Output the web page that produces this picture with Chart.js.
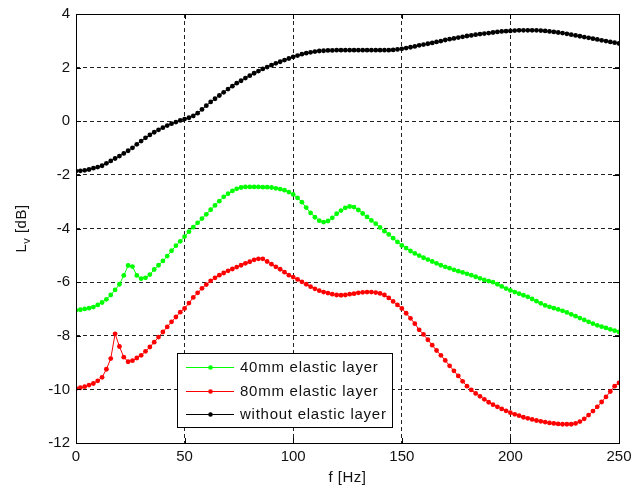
<!DOCTYPE html>
<html>
<head>
<meta charset="utf-8">
<script src="https://cdn.jsdelivr.net/npm/chart.js@4"></script>
<style>
  html, body { margin: 0; padding: 0; background: #fff; }
  #wrap { width: 631px; height: 490px; }
</style>
</head>
<body>
<div id="wrap"><canvas id="lvChart" width="631" height="490"></canvas></div>
<script>
// frequency grid [Hz]
const freqs = [0,2,4,6,8,10,12,14,16,18,20,22,24,26,28,30,32,34,36,38,40,42,44,46,48,50,52,54,56,58,
  60,62,64,66,68,70,72,74,76,78,80,82,84,86,88,90,92,94,96,98,100,102,104,106,108,110,112,114,116,118,
  120,122,124,126,128,130,132,134,136,138,140,142,144,146,148,150,152,154,156,158,160,162,164,166,168,170,
  172,174,176,178,180,182,184,186,188,190,192,194,196,198,200,202,204,206,208,210,212,214,216,218,220,222,
  224,226,228,230,232,234,236,238,240,242,244,246,248,250];

const lv40 = [-7.05,-7.03,-7.00,-6.97,-6.93,-6.85,-6.76,-6.64,-6.48,-6.29,
  -6.08,-5.75,-5.38,-5.42,-5.75,-5.87,-5.84,-5.72,-5.53,-5.37,
  -5.21,-5.03,-4.83,-4.64,-4.48,-4.30,-4.12,-3.95,-3.79,-3.63,
  -3.47,-3.30,-3.14,-2.98,-2.82,-2.70,-2.60,-2.52,-2.47,-2.45,
  -2.45,-2.45,-2.45,-2.46,-2.46,-2.47,-2.50,-2.53,-2.57,-2.64,
  -2.73,-2.86,-3.02,-3.22,-3.42,-3.58,-3.71,-3.76,-3.72,-3.60,
  -3.45,-3.33,-3.23,-3.18,-3.20,-3.31,-3.44,-3.57,-3.70,-3.82,
  -3.96,-4.10,-4.22,-4.36,-4.50,-4.63,-4.73,-4.84,-4.93,-5.01,
  -5.09,-5.16,-5.23,-5.30,-5.37,-5.43,-5.48,-5.54,-5.59,-5.64,
  -5.69,-5.74,-5.80,-5.86,-5.92,-5.96,-6.00,-6.08,-6.16,-6.24,
  -6.31,-6.37,-6.43,-6.49,-6.55,-6.63,-6.71,-6.79,-6.87,-6.92,
  -6.97,-7.02,-7.07,-7.13,-7.20,-7.27,-7.34,-7.41,-7.48,-7.55,
  -7.61,-7.66,-7.71,-7.76,-7.81,-7.86];

const lv80 = [-9.97,-9.94,-9.90,-9.84,-9.78,-9.68,-9.55,-9.25,-8.85,-7.93,
  -8.40,-8.80,-8.97,-8.93,-8.83,-8.73,-8.58,-8.42,-8.24,-8.05,
  -7.86,-7.67,-7.48,-7.30,-7.12,-6.98,-6.78,-6.57,-6.40,-6.23,
  -6.09,-5.95,-5.84,-5.74,-5.66,-5.58,-5.51,-5.44,-5.37,-5.30,
  -5.24,-5.17,-5.13,-5.13,-5.23,-5.33,-5.43,-5.52,-5.63,-5.74,
  -5.81,-5.90,-5.99,-6.08,-6.17,-6.25,-6.32,-6.37,-6.41,-6.45,
  -6.48,-6.49,-6.48,-6.45,-6.43,-6.40,-6.38,-6.37,-6.37,-6.39,
  -6.42,-6.48,-6.59,-6.72,-6.85,-6.98,-7.16,-7.35,-7.55,-7.78,
  -7.95,-8.15,-8.35,-8.55,-8.73,-8.92,-9.12,-9.31,-9.50,-9.70,
  -9.88,-10.02,-10.15,-10.26,-10.37,-10.48,-10.57,-10.65,-10.73,-10.80,
  -10.87,-10.93,-10.98,-11.04,-11.08,-11.12,-11.16,-11.19,-11.22,-11.25,
  -11.27,-11.29,-11.30,-11.30,-11.30,-11.27,-11.20,-11.10,-10.96,-10.81,
  -10.65,-10.47,-10.28,-10.08,-9.88,-9.76];

const lvNone = [-1.86,-1.85,-1.83,-1.80,-1.75,-1.71,-1.66,-1.57,-1.48,-1.39,
  -1.30,-1.20,-1.10,-0.99,-0.86,-0.74,-0.62,-0.51,-0.41,-0.32,
  -0.24,-0.16,-0.09,-0.03,0.03,0.08,0.13,0.20,0.30,0.44,
  0.58,0.72,0.84,0.96,1.08,1.20,1.31,1.42,1.51,1.61,
  1.70,1.79,1.87,1.95,2.02,2.09,2.16,2.22,2.28,2.34,
  2.40,2.45,2.50,2.54,2.57,2.60,2.62,2.63,2.64,2.64,
  2.65,2.65,2.65,2.65,2.65,2.65,2.65,2.65,2.65,2.65,
  2.65,2.65,2.65,2.66,2.68,2.70,2.73,2.76,2.79,2.83,
  2.86,2.89,2.92,2.96,2.99,3.03,3.06,3.09,3.12,3.15,
  3.18,3.20,3.23,3.25,3.27,3.29,3.31,3.33,3.35,3.36,
  3.37,3.38,3.39,3.39,3.39,3.39,3.39,3.38,3.37,3.35,
  3.33,3.31,3.29,3.26,3.23,3.20,3.17,3.14,3.11,3.08,
  3.05,3.02,2.99,2.96,2.93,2.90];

const seriesNames = ['40mm elastic layer', '80mm elastic layer', 'without elastic layer'];
const seriesColors = ['#00ff00', '#ff0000', '#000000'];
const xTicks = [0, 50, 100, 150, 200, 250];
const yTicks = [-12, -10, -8, -6, -4, -2, 0, 2, 4];

const FONT = '"Liberation Sans", Arial, sans-serif';

function pts(ys) { return freqs.map((f, i) => ({ x: f, y: ys[i] })); }

function ds(label, ys, color) {
  return {
    label, data: pts(ys),
    borderColor: color, backgroundColor: color,
    borderWidth: 1, pointRadius: 2.4, pointBorderWidth: 0,
    pointBackgroundColor: color, tension: 0
  };
}

// frame, inner ticks, axis titles and the boxed legend, matlab style
const decor = {
  id: 'decor',
  afterDraw(chart) {
    const c = chart.ctx, a = chart.chartArea;
    const xs = chart.scales.x, ys = chart.scales.y;
    c.save();
    c.strokeStyle = '#000'; c.lineWidth = 1;
    c.strokeRect(Math.round(a.left) + 0.5, Math.round(a.top) + 0.5,
      Math.round(a.right - a.left), Math.round(a.bottom - a.top));
    c.beginPath();
    xTicks.forEach(v => {
      const px = Math.round(xs.getPixelForValue(v)) + 0.5;
      c.moveTo(px, a.bottom); c.lineTo(px, a.bottom - 5);
      c.moveTo(px, a.top); c.lineTo(px, a.top + 5);
    });
    yTicks.forEach(v => {
      const py = Math.round(ys.getPixelForValue(v)) + 0.5;
      c.moveTo(a.left, py); c.lineTo(a.left + 5, py);
      c.moveTo(a.right, py); c.lineTo(a.right - 6, py);
    });
    c.stroke();

    // axis titles
    c.fillStyle = '#111';
    c.font = '15px ' + FONT;
    c.letterSpacing = '0.5px';
    c.textAlign = 'center'; c.textBaseline = 'middle';
    c.fillText('f [Hz]', (a.left + a.right) / 2, 478);

    c.save();
    c.translate(22, (a.top + a.bottom) / 2);
    c.rotate(-Math.PI / 2);
    c.textAlign = 'left';
    const wL = c.measureText('L').width;
    c.font = '11px ' + FONT;
    const wv = c.measureText('v').width;
    c.font = '15px ' + FONT;
    const wR = c.measureText(' [dB]').width;
    let x0 = -(wL + wv + wR) / 2;
    c.fillText('L', x0, 0);
    c.font = '11px ' + FONT;
    c.fillText('v', x0 + wL, 5);
    c.font = '15px ' + FONT;
    c.fillText(' [dB]', x0 + wL + wv, 0);
    c.restore();

    // legend box
    const bx = 177, by = 353, bw = 215, bh = 74;
    c.fillStyle = '#fff';
    c.fillRect(bx, by, bw, bh);
    c.strokeStyle = '#000';
    c.strokeRect(bx + 0.5, by + 0.5, bw, bh);
    const rows = [367, 391, 414];
    c.font = '15px ' + FONT;
    c.letterSpacing = '0.75px';
    c.textAlign = 'left'; c.textBaseline = 'middle';
    seriesNames.forEach((name, i) => {
      const y = rows[i] + 0.5;
      c.strokeStyle = seriesColors[i]; c.lineWidth = 1;
      c.beginPath(); c.moveTo(186, y); c.lineTo(234, y); c.stroke();
      c.fillStyle = seriesColors[i];
      c.beginPath(); c.arc(210.5, y, 2.3, 0, Math.PI * 2); c.fill();
      c.fillStyle = '#111';
      c.fillText(name, 240, rows[i] + 1);
    });
    c.restore();
  }
};

new Chart(document.getElementById('lvChart'), {
  type: 'line',
  data: {
    datasets: [
      ds(seriesNames[0], lv40, seriesColors[0]),
      ds(seriesNames[1], lv80, seriesColors[1]),
      ds(seriesNames[2], lvNone, seriesColors[2])
    ]
  },
  options: {
    responsive: false,
    animation: false,
    devicePixelRatio: 1,
    layout: { padding: { top: 14, right: 12, left: 0, bottom: 0 } },
    plugins: { legend: { display: false }, tooltip: { enabled: false } },
    scales: {
      x: {
        type: 'linear', min: 0, max: 250,
        afterBuildTicks: s => { s.ticks = xTicks.map(v => ({ value: v })); },
        afterFit: s => { s.height = 47; s.paddingLeft = 0; s.paddingRight = 0; },
        ticks: { color: '#111', font: { family: FONT, size: 15 }, padding: 5, maxRotation: 0 },
        grid: { color: '#222', drawTicks: false },
        border: { display: false, dash: [4, 3] }
      },
      y: {
        type: 'linear', min: -12, max: 4,
        afterBuildTicks: s => { s.ticks = yTicks.map(v => ({ value: v })); },
        afterFit: s => { s.width = 76; s.paddingTop = 0; s.paddingBottom = 0; },
        ticks: { color: '#111', font: { family: FONT, size: 15 }, padding: 6 },
        grid: { color: '#222', drawTicks: false },
        border: { display: false, dash: [4, 3] }
      }
    }
  },
  plugins: [decor]
});
</script>
</body>
</html>
